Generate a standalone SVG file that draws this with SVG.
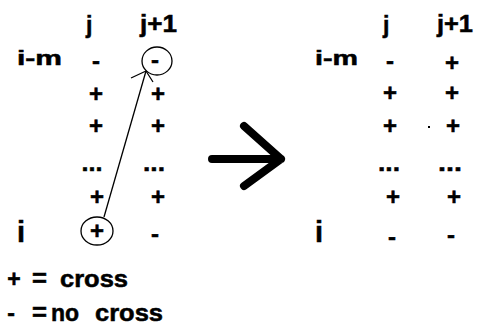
<svg xmlns="http://www.w3.org/2000/svg" width="477" height="327" viewBox="0 0 477 327">
<style>
text{font-family:"Liberation Sans",Arial,sans-serif;font-weight:bold;fill:#000;stroke:#000;stroke-width:0.5}
.hd{font-size:23px}
.lb{font-size:21px}
.bi{font-size:29px}
.sy{font-size:24px;text-anchor:middle}
.lg{font-size:23px}
.eq{font-size:25px}
.thin{fill:none;stroke:#000;stroke-width:1.3}
</style>
<rect width="477" height="327" fill="#fff"/>
<g id="left-matrix">
  <text class="hd" x="86" y="33">j</text>
  <text class="hd" x="140" y="32" textLength="37" lengthAdjust="spacingAndGlyphs">j+1</text>
  <text class="lb" x="17" y="65" textLength="45" lengthAdjust="spacingAndGlyphs">i-m</text>
  <text class="bi" x="17" y="242">i</text>
  <text class="sy" x="96" y="69">-</text>
  <text class="sy" x="155" y="68">-</text>
  <text class="sy" x="96" y="102">+</text>
  <text class="sy" x="158" y="102">+</text>
  <text class="sy" x="96" y="134">+</text>
  <text class="sy" x="158" y="134">+</text>
  <text class="sy" x="92" y="171" textLength="21" lengthAdjust="spacingAndGlyphs">...</text>
  <text class="sy" x="154" y="171" textLength="22" lengthAdjust="spacingAndGlyphs">...</text>
  <text class="sy" x="97" y="205">+</text>
  <text class="sy" x="158" y="205">+</text>
  <text class="sy" x="97" y="239">+</text>
  <text class="sy" x="155" y="242">-</text>
</g>
<g id="circle-top"><ellipse class="thin" cx="157" cy="61" rx="15" ry="14"/></g>
<g id="circle-bottom"><ellipse class="thin" cx="97" cy="231" rx="16" ry="14"/></g>
<g id="connectors">
  <path class="thin" d="M104,217 L146,71"/>
  <path class="thin" d="M131,78 L146,71 L153,82"/>
  <path d="M212,159 H281 M244,126 L281,159 L244,186" fill="none" stroke="#000" stroke-width="8" stroke-linecap="round" stroke-linejoin="round"/>
</g>
<g id="right-matrix">
  <text class="hd" x="383" y="33">j</text>
  <text class="hd" x="437" y="32" textLength="36" lengthAdjust="spacingAndGlyphs">j+1</text>
  <text class="lb" x="315" y="65" textLength="43" lengthAdjust="spacingAndGlyphs">i-m</text>
  <text class="bi" x="315" y="242">i</text>
  <text class="sy" x="390" y="69">-</text>
  <text class="sy" x="452" y="71">+</text>
  <text class="sy" x="390" y="101">+</text>
  <text class="sy" x="452" y="101">+</text>
  <text class="sy" x="390" y="134">+</text>
  <text class="sy" x="453" y="134">+</text>
  <rect x="428" y="126" width="2" height="2" fill="#000"/>
  <text class="sy" x="389" y="171" textLength="22" lengthAdjust="spacingAndGlyphs">...</text>
  <text class="sy" x="450" y="171" textLength="24" lengthAdjust="spacingAndGlyphs">...</text>
  <text class="sy" x="393" y="205">+</text>
  <text class="sy" x="454" y="205">+</text>
  <text class="sy" x="392" y="245">-</text>
  <text class="sy" x="451" y="243">-</text>
</g>
<g id="legend">
  <text class="lg" x="14" y="287" text-anchor="middle">+</text>
  <text class="eq" x="32" y="287" textLength="15" lengthAdjust="spacingAndGlyphs">=</text>
  <text class="lg" x="60" y="287" textLength="68" lengthAdjust="spacingAndGlyphs">cross</text>
  <text class="lg" x="11" y="321" text-anchor="middle">-</text>
  <text class="eq" x="32" y="321" textLength="15" lengthAdjust="spacingAndGlyphs">=</text>
  <text class="lg" x="51" y="321">no</text>
  <text class="lg" x="95" y="321" textLength="68" lengthAdjust="spacingAndGlyphs">cross</text>
</g>
</svg>
